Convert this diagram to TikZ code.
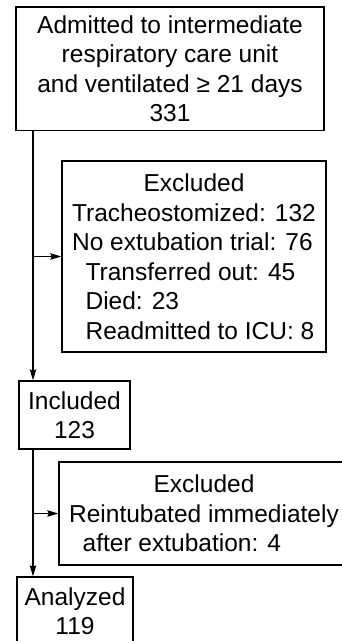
\documentclass[tikz,border=0pt]{standalone}
\usepackage{fontspec}
\setmainfont{Liberation Sans}
\usetikzlibrary{arrows.meta}
\newlength\wExA
\newlength\wExB
\newcommand\flowfont{\fontsize{24.5}{29.5}\selectfont}
\begin{document}
\settowidth\wExA{\flowfont Tracheostomized: 132}%
\settowidth\wExB{\flowfont Reintubated immediately}%
\begin{tikzpicture}[x=1pt,y=-1pt,
  box/.style={draw=black, line width=1.3pt, fill=white, inner sep=0pt,
    font=\flowfont, anchor=center},
  conn/.style={line width=1.3pt, -{Stealth[length=11pt,width=6.5pt,inset=1.5pt]}}]
\useasboundingbox (0,0) rectangle (342,641);
\fill[white] (0,0) rectangle (342,641);
\clip (0,0) rectangle (342,641);
\coordinate (spine) at (33,0);
\node[box, align=center, minimum width=308, minimum height=123.5] (adm) at (170,68.75)
  {Admitted to intermediate\\respiratory care unit\\and ventilated ≥ 21 days\\331};
\node[box, align=left, minimum width=264, minimum height=191] (exa) at (194,256.5)
  {\makebox[\wExA][c]{Excluded}\\Tracheostomized: 132\\No extubation trial: 76\\\hspace*{13.5pt}Transferred out: 45\\\hspace*{13.5pt}Died: 23\\\hspace*{13.5pt}Readmitted to ICU: 8};
\node[box, align=center, minimum width=111, minimum height=68] (inc) at (74.5,415)
  {Included\\123};
\node[box, align=left, minimum width=290, minimum height=103] (exb) at (204,513.5)
  {\makebox[\wExB][c]{Excluded}\\Reintubated immediately\\\hspace*{13.5pt}after extubation: 4};
\node[box, align=center, minimum width=116, minimum height=68] (ana) at (75,611)
  {Analyzed\\119};
\draw[conn] (adm.south -| spine) -- (inc.north -| spine);
\draw[conn] (exa.west -| spine) -- (exa.west);
\draw[conn] (inc.south -| spine) -- (ana.north -| spine);
\draw[conn] (exb.west -| spine) -- (exb.west);
\end{tikzpicture}
\end{document}
